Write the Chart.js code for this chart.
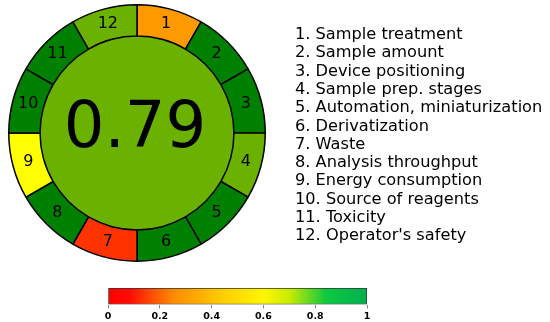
<!DOCTYPE html>
<html lang="en">
<head>
<meta charset="UTF-8">
<title>AGREE pictogram</title>
<script src="https://cdn.jsdelivr.net/npm/chart.js"></script>
<style>
  body { margin: 0; background: #fff; }
  #wrap { position: relative; width: 550px; height: 322px; }
  #wrap canvas { position: absolute; left: 0; }
</style>
</head>
<body>
<div id="wrap">
  <canvas id="agree-chart" width="550" height="322" style="top:0"></canvas>
  <canvas id="scale-chart" width="550" height="42" style="top:280px"></canvas>
</div>

<script>
// data
var criteria = ['Sample treatment', 'Sample amount', 'Device positioning', 'Sample prep. stages',
  'Automation, miniaturization', 'Derivatization', 'Waste', 'Analysis throughput',
  'Energy consumption', 'Source of reagents', 'Toxicity', "Operator's safety"];
var weights = [1, 1, 1, 1, 1, 1, 1, 1, 1, 1, 1, 1];
var totalScore = 0.79;
var scaleTicks = [0, 0.2, 0.4, 0.6, 0.8, 1];

// colours of each segment
var segmentColors = ['#FF9900', '#008000', '#008000', '#6AB100', '#008000', '#008000',
  '#FF3300', '#008000', '#FFFF00', '#008000', '#008000', '#6AB100'];
var centerColor = '#6AB100';

// centre disc + score + numbers + legend
var agreePlugin = {
  id: 'agree',
  beforeDatasetsDraw: function(chart) {
    var arc = chart.getDatasetMeta(0).data[0];
    var ctx = chart.ctx;
    ctx.save();
    ctx.beginPath();
    ctx.arc(arc.x, arc.y, arc.innerRadius, 0, Math.PI * 2);
    ctx.fillStyle = centerColor;
    ctx.fill();
    ctx.restore();
  },
  afterDatasetsDraw: function(chart) {
    var meta = chart.getDatasetMeta(0);
    var ctx = chart.ctx;
    ctx.save();
    ctx.fillStyle = '#000';
    ctx.textAlign = 'center';
    ctx.textBaseline = 'middle';
    ctx.font = '16px "DejaVu Sans"';
    meta.data.forEach(function(a, i) {
      var p = a.tooltipPosition();
      ctx.fillText(String(i + 1), p.x, p.y);
    });
    var c = meta.data[0];
    ctx.font = '64px "DejaVu Sans"';
    ctx.fillText(totalScore.toFixed(2), c.x - 2, c.y - 3);

    // legend list
    ctx.textAlign = 'left';
    ctx.textBaseline = 'alphabetic';
    ctx.font = '16.2px "DejaVu Sans"';
    chart.data.labels.forEach(function(lab, i) {
      ctx.fillText((i + 1) + '. ' + lab, 295, 39 + i * 18.3);
    });
    ctx.restore();
  }
};

new Chart(document.getElementById('agree-chart'), {
  type: 'doughnut',
  data: {
    labels: criteria,
    datasets: [{
      data: weights,
      backgroundColor: segmentColors,
      borderColor: '#000',
      borderWidth: 1.5,
      hoverOffset: 0
    }]
  },
  options: {
    responsive: false,
    animation: false,
    cutout: '75.6%',
    layout: { padding: { left: 8, top: 4, right: 284, bottom: 60 } },
    plugins: { legend: { display: false }, tooltip: { enabled: false } }
  },
  plugins: [agreePlugin]
});

// colour scale bar
new Chart(document.getElementById('scale-chart'), {
  type: 'bar',
  data: {
    labels: ['score'],
    datasets: [{
      data: [[scaleTicks[0], scaleTicks[scaleTicks.length - 1]]],
      backgroundColor: function(context) {
        var area = context.chart.chartArea;
        if (!area) return '#ff0';
        var g = context.chart.ctx.createLinearGradient(area.left, 0, area.right, 0);
        g.addColorStop(0, '#FF0000');
        g.addColorStop(0.08, '#FF0A00');
        g.addColorStop(0.25, '#FF8A00');
        g.addColorStop(0.45, '#FFD000');
        g.addColorStop(0.6, '#FFF500');
        g.addColorStop(0.7, '#C8EC00');
        g.addColorStop(0.84, '#10C840');
        g.addColorStop(1, '#00B050');
        return g;
      },
      borderColor: '#333',
      borderWidth: 1,
      borderSkipped: false,
      barPercentage: 1,
      categoryPercentage: 1
    }]
  },
  options: {
    responsive: false,
    animation: false,
    indexAxis: 'y',
    layout: { padding: { left: 108, right: 183, top: 8, bottom: 1 } },
    scales: {
      x: {
        type: 'linear',
        min: 0,
        max: 1,
        border: { display: false },
        grid: { drawOnChartArea: false, tickLength: 4, color: '#888' },
        ticks: {
          stepSize: 0.2,
          padding: 2,
          color: '#000',
          font: { family: 'DejaVu Sans', weight: 'bold', size: 9.5 },
          callback: function(v) { return scaleTicks.indexOf(Math.round(v * 10) / 10) >= 0 ? String(Math.round(v * 10) / 10) : ''; }
        }
      },
      y: { display: false }
    },
    plugins: { legend: { display: false }, tooltip: { enabled: false } }
  }
});
</script>
</body>
</html>
